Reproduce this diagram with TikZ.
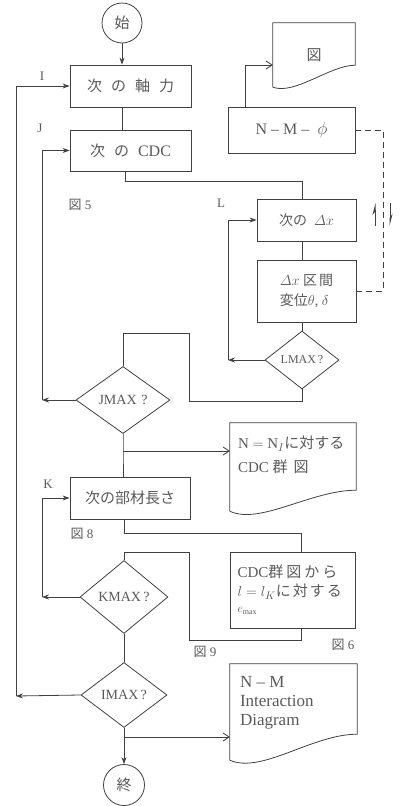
\documentclass[tikz,border=0pt]{standalone}
\usepackage{amsmath}
\usepackage{fontspec}
\setmainfont{Liberation Serif}
\newfontfamily\jpfont{Noto Sans CJK JP}
\newcommand{\jp}[1]{{\jpfont #1}}
\usepackage{tikz}
\usetikzlibrary{shapes.geometric, arrows.meta, positioning}
\tikzset{
    baseblock/.style={rectangle, draw=black!75, line width=0.8pt, text=black!65, text centered, font=\fontsize{15pt}{18pt}\selectfont, inner sep=0pt},
    decision/.style={diamond, draw=black!75, line width=0.8pt, text=black!65, aspect=1.3, inner sep=0pt, font=\fontsize{14pt}{16pt}\selectfont},
    terminal/.style={circle, draw=black!75, line width=0.8pt, text=black!65, minimum size=40pt, inner sep=0pt, font=\fontsize{15pt}{18pt}\selectfont},
    docbox/.style={rectangle, inner sep=0pt, text=black!65, font=\fontsize{15pt}{18pt}\selectfont},
    doctext/.style={text=black!65, align=left, inner sep=0pt},
    figtag/.style={text=black!65, inner sep=0pt, font=\fontsize{13pt}{15pt}\selectfont},
    arrow/.style={line width=0.8pt, draw=black!75, -{Stealth[length=7pt, width=5pt]}},
    outarrow/.style={line width=0.8pt, draw=black!75, -{Straight Barb[length=6pt, width=8pt]}},
    line/.style={line width=0.8pt, draw=black!75},
    dashline/.style={line, dash pattern=on 6pt off 4pt},
    harpoon/.style={line width=1pt, draw=black!75, -{Stealth[left, length=10pt, width=5pt]}}
}
% document symbol: box with a wavy lower edge
\newcommand{\docedge}[4]{%
    \draw [line] (#1.south west) -- (#1.north west) -- (#1.north east)
        -- ([yshift=#2]#1.south east) .. controls +(#3,0pt) and +(#4) .. (#1.south west);}

\begin{document}
\begin{tikzpicture}[x=1pt, y=-1pt]
    \useasboundingbox (0,0) rectangle (400,806);

    % main column
    \node (start) [terminal] at (122,23) {\jp{始}};
    \node (axial) [baseblock, minimum width=121pt, minimum height=42pt] at (130.5,86) {\jp{次\hspace{9pt}の\hspace{9pt}軸\hspace{9pt}力}};
    \node (cdc) [baseblock, minimum width=121pt, minimum height=41pt] at (130.5,150.5) {\jp{次\hspace{9pt}の}\hspace{9pt}{\fontsize{16pt}{18pt}\selectfont CDC}};
    \node (jmax) [decision, minimum width=94pt, minimum height=67pt] at (123,400) {JMAX\,\,?};
    \node (member) [baseblock, minimum width=120pt, minimum height=42pt] at (130,498) {\jp{次の部材長さ}};
    \node (kmax) [decision, minimum width=88pt, minimum height=73pt] at (124,597) {KMAX\,?};
    \node (imax) [decision, minimum width=86pt, minimum height=65pt] at (124,695) {IMAX\,?};
    \node (finish) [terminal, minimum size=41pt] at (124,785) {\jp{終}};

    % L loop
    \node (dx) [baseblock, minimum width=99pt, minimum height=42pt, font=\fontsize{14pt}{16pt}\selectfont] at (306.5,220) {\jp{次の}\ \ $\varDelta x$};
    \node (interval) [baseblock, minimum width=99pt, minimum height=62pt, align=left, font=\fontsize{14pt}{20pt}\selectfont] at (306.5,291) {$\varDelta x$ \jp{区\hspace{2pt}間}\\\jp{変位}$\theta$, $\delta$};
    \node (lmax) [decision, minimum width=74pt, minimum height=58pt, font=\fontsize{12pt}{14pt}\selectfont] at (302,360) {LMAX\,?};

    % outputs
    \node (nmphi) [baseblock, minimum width=127pt, minimum height=46pt, font=\fontsize{16pt}{18pt}\selectfont] at (291.5,130) {N -- M -- \ $\phi$};
    \node (figdoc) [docbox, minimum width=82pt, minimum height=64pt] at (314,55) {\jp{図}};
    \node (nndoc) [docbox, minimum width=126pt, minimum height=88pt] at (293,467) {};
    \node (nntxt) [doctext, font=\fontsize{15pt}{24pt}\selectfont, below right=13pt and 8pt of nndoc.north west] {N $=$ N$_I$\jp{に対する}\\CDC \jp{群\hspace{6pt}図}};
    \node (cdcdoc) [baseblock, minimum width=125pt, minimum height=76pt, text width=110pt, align=left, font=\fontsize{15pt}{19pt}\selectfont] at (292.5,590) {CDC\jp{群\hspace{3pt}図\hspace{3pt}か\hspace{3pt}ら}\\$l=l_K$\jp{に\hspace{2pt}対\hspace{2pt}す\hspace{2pt}る}\\[-3pt]{\fontsize{12pt}{12pt}\selectfont$e_{\max}$}};
    \node (nmdoc) [docbox, minimum width=127pt, minimum height=96pt] at (293.5,712) {};
    \node (nmtxt) [doctext, font=\fontsize{17pt}{19pt}\selectfont, below right=12pt and 10pt of nmdoc.north west] {N -- M\\Interaction\\Diagram};

    \docedge{figdoc}{22pt}{-25pt}{22pt,-8pt}
    \docedge{nndoc}{21pt}{-45pt}{30pt,-14pt}
    \docedge{nmdoc}{26pt}{-45pt}{32pt,-14pt}

    % labels
    \node (lblI) [figtag] at (42,76) {I};
    \node (lblJ) [figtag] at (40,128) {J};
    \node (lblL) [figtag] at (221,203) {L};
    \node (lblK) [figtag] at (48,484) {K};
    \node (fig5) [figtag] at (80,205) {\jp{図} 5};
    \node (fig8) [figtag] at (82,534) {\jp{図} 8};
    \node (fig9) [figtag] at (205,652) {\jp{図} 9};
    \node (fig6) [figtag] at (343,645) {\jp{図} 6};

    % bend points
    \coordinate (lin) at (302,181);
    \coordinate (lret) at (228,360);
    \coordinate (lout1) at (189,401);
    \coordinate (lout2) at (189,333);
    \coordinate (jret) at (42,400);
    \coordinate (jout) at (123,451);
    \coordinate (kin) at (301,533);
    \coordinate (kout1) at (301,640);
    \coordinate (kout2) at (189,640);
    \coordinate (kout3) at (189,552);
    \coordinate (kret) at (42,597);
    \coordinate (iret) at (16,696);
    \coordinate (iout) at (124,737);
    \coordinate (fout) at (245,65);
    \coordinate (dsh) at (383,200);

    \draw [arrow] (start) -- (axial.north -| start);
    \draw [line] (axial.south -| start) -- (cdc.north -| start);
    \draw [line] ([xshift=-5pt]cdc.south) |- (lin) -- (lin |- dx.north);
    \draw [line] (dx.south -| lin) -- (interval.north -| lin);
    \draw [line] (interval.south -| lmax) -- (lmax.north);
    \draw [arrow] (lmax.west) -- (lret);
    \draw [arrow] (lret) |- (dx.west);
    \draw [line] (lmax.south) |- (lout1) -- (lout2) -| (jmax.north);
    \draw [arrow] (jmax.west) -- (jret);
    \draw [arrow] (jret) |- (cdc.west);
    \draw [line] (jmax.south) -- (jout) -- (jout |- member.north);
    \draw [outarrow] (jout) -- (jout -| nndoc.west);
    \draw [line] ([xshift=-6pt]member.south) |- (kin) -- (kin |- cdcdoc.north);
    \draw [line] (cdcdoc.south -| kout1) -- (kout1) -- (kout2) -- (kout3) -| (kmax.north);
    \draw [arrow] (kmax.west) -- (kret);
    \draw [arrow] (kret) |- (member.west);
    \draw [line] (kmax.south) -- (imax.north);
    \draw [arrow] (imax.west) -- (iret);
    \draw [arrow] (iret) |- (axial.west);
    \draw [line] (imax.south) -- (iout);
    \draw [arrow] (iout) -- (finish.north);
    \draw [outarrow] (iout) -- (iout -| nmdoc.west);
    \draw [outarrow] (nmphi.north -| fout) -- (fout) -- (fout -| figdoc.west);
    \draw [dashline] (nmphi.east) -| (dsh) |- (interval.east);
    \draw [harpoon] (375,226) -- (375,203);
    \draw [harpoon] (390,203) -- (390,226);
\end{tikzpicture}
\end{document}
